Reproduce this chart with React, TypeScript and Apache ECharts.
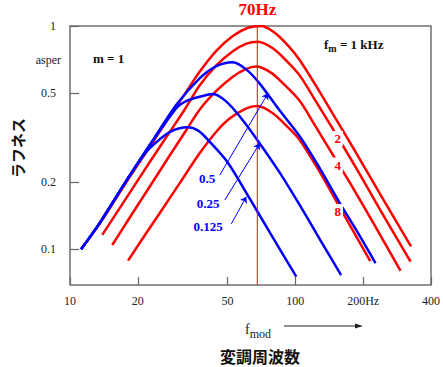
import React, { useEffect, useRef } from "react";
import * as echarts from "echarts";

// axis ticks
const xTickValues = [10, 20, 50, 100, 200, 400];
const yTickValues = [0.1, 0.2, 0.5, 1];

// red curves (m = 1, 2, 4, 8)
const red1Freq = [11.2, 13.6, 17.8, 22.6, 27.7, 32.4, 37.6, 44.7, 52.8, 61.7, 70.8, 81.3, 93.3, 104.5, 123, 148, 183, 240, 326];
const red1Val = [0.1, 0.131, 0.2, 0.288, 0.393, 0.498, 0.624, 0.776, 0.902, 0.982, 1.0, 0.93, 0.812, 0.704, 0.543, 0.398, 0.278, 0.174, 0.103];

const red2Freq = [13.9, 17.8, 22.6, 27.7, 32.4, 37.6, 44.7, 52.8, 60.3, 68.2, 79.4, 91.2, 104.5, 123, 148, 183, 240, 324.6];
const red2Val = [0.116, 0.17, 0.246, 0.335, 0.425, 0.541, 0.668, 0.771, 0.832, 0.85, 0.795, 0.7, 0.601, 0.462, 0.341, 0.238, 0.148, 0.088];

const red3Freq = [15.4, 18.6, 22.6, 27.7, 32.4, 37.6, 44.7, 52.8, 60.3, 67, 77.6, 89.1, 104.5, 123, 148, 174, 224, 293];
const red3Val = [0.1045, 0.141, 0.191, 0.263, 0.335, 0.422, 0.513, 0.593, 0.641, 0.658, 0.62, 0.548, 0.463, 0.355, 0.261, 0.2, 0.129, 0.08];

const red4Freq = [18.1, 21.4, 25, 30.9, 37.6, 44.7, 51.1, 60.3, 68, 79.4, 91.2, 104.5, 126, 157, 215];
const red4Val = [0.089, 0.115, 0.145, 0.2, 0.269, 0.337, 0.385, 0.427, 0.438, 0.407, 0.358, 0.309, 0.229, 0.155, 0.0885];

// blue curves (m = 0.5, 0.25, 0.125)
const blue1Freq = [11.2, 13.6, 17.8, 22.6, 29.7, 37.6, 44.7, 52.8, 60.3, 69.2, 85.1, 104.5, 126, 157, 190.5, 227];
const blue1Val = [0.1, 0.132, 0.203, 0.293, 0.445, 0.583, 0.661, 0.688, 0.641, 0.555, 0.419, 0.321, 0.238, 0.162, 0.1175, 0.0866];

const blue2Freq = [11.2, 13.6, 17.8, 22.6, 29.7, 33.1, 37.6, 43.2, 49.0, 56.6, 69.5, 85.1, 104.5, 129, 159.6];
const blue2Val = [0.1, 0.132, 0.203, 0.293, 0.43, 0.463, 0.482, 0.496, 0.462, 0.394, 0.298, 0.221, 0.158, 0.11, 0.0767];

const blue3Freq = [11.2, 13.6, 17.8, 20.4, 22.6, 27.7, 33.4, 37.2, 41.7, 50.1, 60.6, 77.6, 101];
const blue3Val = [0.1, 0.132, 0.203, 0.25, 0.284, 0.335, 0.352, 0.339, 0.303, 0.245, 0.179, 0.1175, 0.0754];

// annotation arrows (start, end) in data coords
const arrowStarts = [[46.2, 0.215], [48.6, 0.166], [52.0, 0.13]];
const arrowEnds = [[75.6, 0.4995], [69.5, 0.298], [60.6, 0.172]];

// 70 Hz marker line
const markerFreq = [67.8, 67.8];
const markerVal = [0.0692, 1];

const RED = "#ff0000";
const BLUE = "#0000ff";
const SERIF = "'Liberation Serif', 'DejaVu Serif', serif";
const CJK = "'Noto Sans CJK JP', sans-serif";

const zip = (f: number[], v: number[]) => f.map((x, i) => [x, v[i]]);

function fmt(v: number) {
  const r = Math.round(v * 1000) / 1000;
  return String(r);
}

export default function App() {
  const ref = useRef<HTMLDivElement>(null);
  useEffect(() => {
    if (!ref.current) return;
    const chart = echarts.init(ref.current, undefined, { renderer: "svg" });
    const lineSeries = (name: string, f: number[], v: number[], color: string, extra: any = {}) => ({
      name,
      type: "line",
      data: zip(f, v),
      smooth: 0.3,
      showSymbol: false,
      symbol: "none",
      lineStyle: { color, width: 2.5 },
      itemStyle: { color },
      z: color === BLUE ? 3 : 2,
      ...extra,
    });
    const option: any = {
      animation: false,
      grid: {
        left: 70,
        right: 11.5,
        top: 26,
        bottom: 82,
        show: true,
        borderColor: "#707070",
        borderWidth: 1.5,
        backgroundColor: "transparent",
      },
      xAxis: {
        type: "log",
        logBase: 10,
        min: 10,
        max: 400,
        axisLine: { show: false },
        splitLine: { show: false },
        axisTick: {
          show: true,
          inside: true,
          length: 8,
          customValues: xTickValues,
          lineStyle: { color: "#666", width: 1.2 },
        },
        axisLabel: {
          customValues: xTickValues,
          margin: 10,
          color: "#222",
          fontFamily: SERIF,
          fontSize: 12,
          formatter: (v: number) => (Math.round(v) === 200 ? "200Hz" : fmt(v)),
        },
      },
      yAxis: {
        type: "log",
        logBase: 10,
        min: 0.0692,
        max: 1,
        axisLine: { show: false },
        splitLine: { show: false },
        axisTick: {
          show: true,
          inside: true,
          length: 9,
          customValues: yTickValues,
          lineStyle: { color: "#666", width: 1.2 },
        },
        axisLabel: {
          customValues: yTickValues,
          margin: 14,
          color: "#222",
          fontFamily: SERIF,
          fontSize: 12,
          formatter: (v: number) => fmt(v),
        },
      },
      series: [
        {
          name: "70Hz",
          type: "line",
          data: zip(markerFreq, markerVal),
          showSymbol: false,
          symbol: "none",
          lineStyle: { color: RED, width: 1, opacity: 1 },
          itemStyle: { color: RED },
          z: 4,
        },
        lineSeries("m=1", red1Freq, red1Val, RED),
        lineSeries("m=2", red2Freq, red2Val, RED),
        lineSeries("m=4", red3Freq, red3Val, RED),
        lineSeries("m=8", red4Freq, red4Val, RED),
        lineSeries("m=0.5", blue1Freq, blue1Val, BLUE, {
          markLine: {
            silent: true,
            symbol: ["none", "arrow"],
            symbolSize: 6,
            label: { show: false },
            lineStyle: { color: BLUE, width: 1, type: "solid" },
            emphasis: { disabled: true },
            data: arrowStarts.map((s, i) => [{ coord: s }, { coord: arrowEnds[i] }]),
          },
        }),
        lineSeries("m=0.25", blue2Freq, blue2Val, BLUE),
        lineSeries("m=0.125", blue3Freq, blue3Val, BLUE),
      ],
      graphic: [
        {
          type: "text",
          x: 257.5,
          y: 9,
          z: 100,
          style: { text: "70Hz", fill: RED, font: `bold 17px ${SERIF}`, align: "center", verticalAlign: "middle" },
        },
        {
          type: "text",
          x: 61,
          y: 60,
          z: 100,
          style: { text: "asper", fill: "#222", font: `12px ${SERIF}`, align: "right", verticalAlign: "middle" },
        },
        {
          type: "text",
          x: 93,
          y: 58,
          z: 100,
          style: { text: "m = 1", fill: "#111", font: `bold 13px ${SERIF}`, align: "left", verticalAlign: "middle" },
        },
        {
          type: "text",
          x: 324,
          y: 44,
          z: 100,
          style: {
            text: "{a|f}{b|m}{a| = 1 kHz}",
            verticalAlign: "middle",
            align: "left",
            rich: {
              a: { font: `bold 13px ${SERIF}`, fill: "#111", verticalAlign: "middle" },
              b: { font: `bold 10px ${SERIF}`, fill: "#111", padding: [9, 0, 0, 0] },
            },
          },
        },
        ...[
          { t: "0.5", x: 207, y: 178 },
          { t: "0.25", x: 208, y: 203 },
          { t: "0.125", x: 208, y: 226 },
        ].map((d) => ({
          type: "text",
          x: d.x,
          y: d.y,
          z: 100,
          style: { text: d.t, fill: BLUE, font: `bold 13px ${SERIF}`, align: "center", verticalAlign: "middle" },
        })),
        ...[
          { t: "2", x: 337.7, y: 138.5 },
          { t: "4", x: 337.7, y: 165 },
          { t: "8", x: 337.7, y: 211.5 },
        ].map((d) => ({
          type: "text",
          x: d.x,
          y: d.y,
          z: 100,
          style: {
            text: d.t,
            fill: RED,
            font: `bold 13px ${SERIF}`,
            align: "center",
            verticalAlign: "middle",
            backgroundColor: "#fff",
            padding: [1, 2, 1, 2],
          },
        })),
        {
          type: "text",
          x: 17.5,
          y: 148,
          rotation: Math.PI / 2,
          z: 100,
          style: { text: "ラフネス", fill: "#111", font: `bold 15px ${CJK}`, align: "center", verticalAlign: "middle" },
        },
        {
          type: "text",
          x: 245,
          y: 329,
          z: 100,
          style: {
            text: "{a|f}{b|mod}",
            align: "left",
            verticalAlign: "middle",
            rich: {
              a: { font: `14px ${SERIF}`, fill: "#222" },
              b: { font: `12px ${SERIF}`, fill: "#222", padding: [10, 0, 0, 0] },
            },
          },
        },
        {
          type: "line",
          z: 100,
          shape: { x1: 284, y1: 326, x2: 358, y2: 326 },
          style: { stroke: "#222", lineWidth: 1 },
        },
        {
          type: "polygon",
          z: 100,
          shape: { points: [[363, 326], [355, 323.5], [355, 328.5]] },
          style: { fill: "#222" },
        },
        {
          type: "text",
          x: 260,
          y: 355.5,
          z: 100,
          style: { text: "変調周波数", fill: "#111", font: `bold 16px ${CJK}`, align: "center", verticalAlign: "middle" },
        },
      ],
    };
    chart.setOption(option);
    return () => chart.dispose();
  }, []);
  return (
    <div
      ref={ref}
      style={{ position: "fixed", left: 0, top: 0, width: 443, height: 367, background: "#fff" }}
    />
  );
}
